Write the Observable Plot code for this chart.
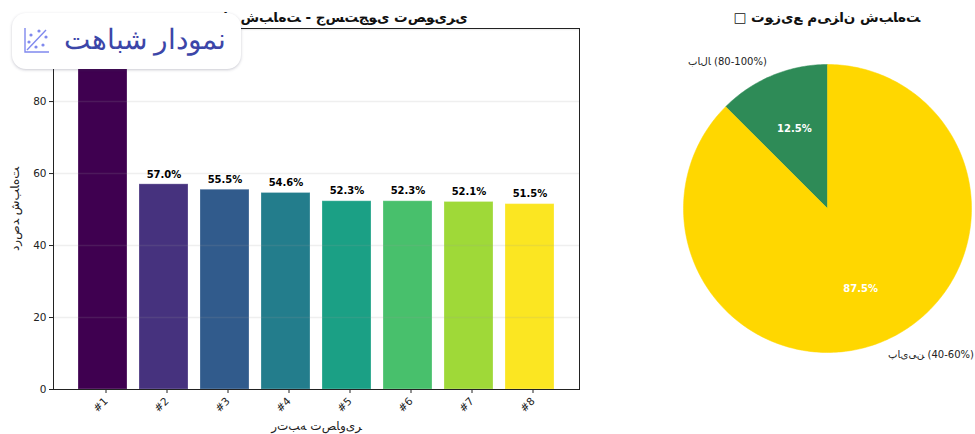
<!DOCTYPE html>
<html lang="fa">
<head>
<meta charset="utf-8">
<script src="https://cdn.jsdelivr.net/npm/d3@7"></script>
<script src="https://cdn.jsdelivr.net/npm/@observablehq/plot@0.6"></script>
<style>
  html, body { margin: 0; padding: 0; background: #fff; width: 975px; height: 434px; overflow: hidden; }
  #stage { position: relative; width: 975px; height: 434px; font-family: "DejaVu Sans", sans-serif; }
  #bars, #pie { position: absolute; top: 0; }
  #bars { left: 0; }
  #pie { left: 600px; }
  .title { position: absolute; font: bold 13.5px "DejaVu Sans", sans-serif; color: #111; white-space: pre; transform: translateX(-50%); }
  #card { position: absolute; left: 12px; top: 13px; width: 229px; height: 56px; background: #fff; border-radius: 14px;
          box-shadow: 0 1px 3px rgba(60,60,90,.28); }
  #card svg { position: absolute; left: 12px; top: 14px; }
  #card span { position: absolute; left: 52px; top: 6px; font: 28.4px "Noto Sans", sans-serif; color: #3c46a8; direction: rtl; white-space: nowrap; }
</style>
</head>
<body>
<div id="stage">
  <div id="bars"></div>
  <div id="pie"></div>
  <div class="title" id="t1" style="left:318px;top:9px"></div>
  <div class="title" id="t2" style="left:827px;top:9px"></div>
  <div id="card">
    <svg width="26" height="26" viewBox="0 0 26 26" fill="none" stroke="#8089ee" stroke-width="1.4">
      <path d="M1 1V25H25"/><path d="M3 23L22 3"/>
      <g fill="#8089ee" stroke="none"><circle cx="7" cy="8" r="1.6"/><circle cx="15" cy="4" r="1.6"/><circle cx="22" cy="10" r="1.6"/><circle cx="5" cy="15" r="1.6"/><circle cx="19" cy="18" r="1.6"/><circle cx="12" cy="20" r="1.6"/></g>
    </svg>
    <span>نمودار شباهت</span>
  </div>
</div>
<script>
const ranks = ["#1", "#2", "#3", "#4", "#5", "#6", "#7", "#8"];
const similarity = [90, 57.0, 55.5, 54.6, 52.3, 52.3, 52.1, 51.5];
const barColors = ["#3f0050", "#46327e", "#315b8c", "#237d8c", "#1ba085", "#48c06c", "#9fd938", "#fbe622"];
const sliceLabels = ["بالا (80-100%)", "پایین (40-60%)"];
const sliceShares = [12.5, 87.5];
const sliceColors = ["#2e8b57", "#ffd700"];
const titleBars = "□ نمودار شباهت - جستجوی تصویری";
const titlePie = "□ توزیع میزان شباهت";
const xLabel = "رتبه تصاویر";
const yLabel = "درصد شباهت";

// The reference shows Persian text unshaped: isolated letters, logical order, left to right.
const unshaped = s => "\u202D" + [...s].join("\u200C") + "\u202C";

document.getElementById("t1").textContent = unshaped(titleBars);
document.getElementById("t2").textContent = unshaped(titlePie);

const barRows = ranks.map((rank, i) => ({rank, value: similarity[i]}));

const barPlot = Plot.plot({
  width: 600, height: 434,
  marginLeft: 53, marginRight: 21, marginTop: 28, marginBottom: 45,
  style: {fontFamily: "DejaVu Sans, sans-serif", fontSize: "10.5px", background: "transparent", color: "#222"},
  x: {domain: ranks, paddingInner: 0.2, paddingOuter: 0.4, label: null},
  y: {domain: [0, 100.3], label: null},
  color: {domain: ranks, range: barColors},
  marks: [
    Plot.barY(barRows, {x: "rank", y: "value", fill: "rank", stroke: "#fff", strokeOpacity: 0.25, strokeWidth: 1}),
    Plot.gridY([20, 40, 60, 80, 100], {stroke: "#999", strokeOpacity: 0.16, strokeWidth: 1.5}),
    Plot.text(barRows, {x: "rank", y: "value", text: d => d.value.toFixed(1) + "%", dy: -10, fontWeight: "bold", fontSize: 10, fill: "#000"}),
    Plot.frame({stroke: "#222", strokeOpacity: 1}),
    Plot.axisY({ticks: [0, 20, 40, 60, 80], tickSize: 4, tickPadding: 3, fontSize: 10.5, label: null, stroke: "#222"}),
    Plot.axisX({tickSize: 4, tickPadding: 6, tickRotate: -45, fontSize: 10.5, label: null, stroke: "#222", dx: 3}),
    Plot.axisY({ticks: [], label: unshaped(yLabel), labelAnchor: "center", labelArrow: "none", labelOffset: 43, fontSize: 12}),
    Plot.axisX({ticks: [], label: unshaped(xLabel), labelAnchor: "center", labelArrow: "none", labelOffset: 40, fontSize: 12})
  ]
});
document.getElementById("bars").append(barPlot);

// Slice outlines derived from the shares, drawn through the plot's x and y scales.
const startAngle = Math.PI / 2;
let cumulative = 0;
const slices = sliceShares.map((share, i) => {
  const a0 = startAngle + cumulative / 100 * 2 * Math.PI;
  cumulative += share;
  const a1 = startAngle + cumulative / 100 * 2 * Math.PI;
  return {label: sliceLabels[i], share, color: sliceColors[i], a0, a1, mid: (a0 + a1) / 2};
});
const outline = slices.flatMap(s => {
  const steps = Math.ceil((s.a1 - s.a0) * 60);
  const arc = d3.range(steps + 1).map(k => {
    const a = s.a0 + (s.a1 - s.a0) * k / steps;
    return {slice: s.label, color: s.color, u: Math.cos(a), v: Math.sin(a)};
  });
  const apex = {slice: s.label, color: s.color, u: 0, v: 0};
  return [apex, ...arc, apex];
});

const labelMark = (subset, anchor) => Plot.text(subset, {
  x: s => 1.1 * Math.cos(s.mid), y: s => 1.1 * Math.sin(s.mid),
  text: s => unshaped(s.label), textAnchor: anchor, fill: "#222", fontSize: 10
});

const piePlot = Plot.plot({
  width: 375, height: 434,
  marginLeft: 83, marginRight: 4, marginTop: 64, marginBottom: 82,
  axis: null,
  style: {fontFamily: "DejaVu Sans, sans-serif", background: "transparent", overflow: "visible"},
  x: {domain: [-1, 1]},
  y: {domain: [-1, 1]},
  marks: [
    Plot.line(outline, {x: "u", y: "v", z: "slice", fill: "color", stroke: "color", strokeWidth: 0.5, curve: "linear"}),
    Plot.text(slices, {x: s => 0.6 * Math.cos(s.mid), y: s => 0.6 * Math.sin(s.mid), text: s => s.share.toFixed(1) + "%", fill: "#fff", fontWeight: "bold", fontSize: 10}),
    labelMark(slices.filter(s => Math.cos(s.mid) < 0), "end"),
    labelMark(slices.filter(s => Math.cos(s.mid) >= 0), "start")
  ]
});
document.getElementById("pie").append(piePlot);
</script>
</body>
</html>
